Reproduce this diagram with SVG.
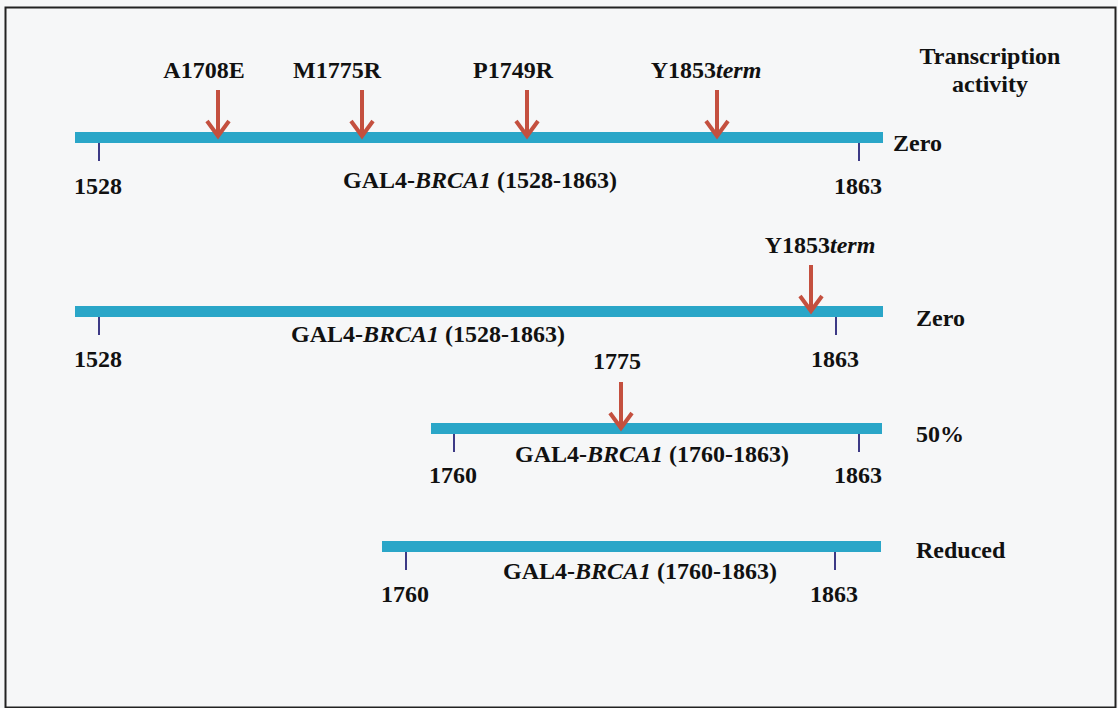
<svg xmlns="http://www.w3.org/2000/svg" width="1118" height="708" viewBox="0 0 1118 708">
<style>
text{font-family:"Liberation Serif","Times New Roman",serif;font-weight:bold;font-size:24px;fill:#111;text-anchor:middle}
.it{font-style:italic}
.bar{fill:#2aa6c8}
.tick{stroke:#3d3a86;stroke-width:2}
.arr{stroke:#c4503f;stroke-width:4;fill:none;stroke-linecap:butt}
.st{text-anchor:start}
</style>
<defs>
<g id="arrow"><line class="arr" x1="0" y1="0" x2="0" y2="46"/><polyline class="arr" points="-11,31 0,46 11,31"/></g>
</defs>
<rect x="0" y="0" width="1118" height="708" fill="#f6f7f8"/>
<rect x="5.5" y="7.5" width="1110" height="700" fill="none" stroke="#222" stroke-width="2"/>
<g id="header">
<text x="990" y="64">Transcription</text>
<text x="990" y="92">activity</text>
</g>
<g id="construct1">
<rect class="bar" x="75" y="132" width="808" height="11"/>
<line class="tick" x1="99" y1="143" x2="99" y2="161"/>
<line class="tick" x1="859" y1="143" x2="859" y2="161"/>
<text x="98" y="194">1528</text>
<text x="858" y="194">1863</text>
<text x="480" y="188">GAL4-<tspan class="it">BRCA1</tspan> (1528-1863)</text>
<text class="st" x="893" y="151">Zero</text>
</g>
<g id="mutations1">
<text x="204" y="78">A1708E</text>
<text x="337" y="78">M1775R</text>
<text x="513" y="78">P1749R</text>
<text x="706" y="78">Y1853<tspan class="it">term</tspan></text>
</g>
<g id="construct2">
<rect class="bar" x="75" y="306" width="808" height="11"/>
<line class="tick" x1="99" y1="317" x2="99" y2="335"/>
<line class="tick" x1="836" y1="317" x2="836" y2="335"/>
<text x="98" y="367">1528</text>
<text x="835" y="367">1863</text>
<text x="428" y="342">GAL4-<tspan class="it">BRCA1</tspan> (1528-1863)</text>
<text class="st" x="916" y="326">Zero</text>
<text x="820" y="253">Y1853<tspan class="it">term</tspan></text>
</g>
<g id="construct3">
<rect class="bar" x="431" y="423" width="451" height="11"/>
<line class="tick" x1="454" y1="434" x2="454" y2="452"/>
<line class="tick" x1="859" y1="434" x2="859" y2="452"/>
<text x="453" y="483">1760</text>
<text x="858" y="483">1863</text>
<text x="652" y="462">GAL4-<tspan class="it">BRCA1</tspan> (1760-1863)</text>
<text class="st" x="916" y="442">50%</text>
<text x="617" y="369">1775</text>
</g>
<g id="construct4">
<rect class="bar" x="382" y="541" width="499" height="11"/>
<line class="tick" x1="406" y1="552" x2="406" y2="570"/>
<line class="tick" x1="835" y1="552" x2="835" y2="570"/>
<text x="405" y="602">1760</text>
<text x="834" y="602">1863</text>
<text x="640" y="579">GAL4-<tspan class="it">BRCA1</tspan> (1760-1863)</text>
<text class="st" x="916" y="558">Reduced</text>
</g>
<g id="connectors">
<use href="#arrow" x="218" y="90"/>
<use href="#arrow" x="362" y="90"/>
<use href="#arrow" x="527" y="90"/>
<use href="#arrow" x="717" y="90"/>
<use href="#arrow" x="811" y="265"/>
<use href="#arrow" x="621" y="382"/>
</g>
</svg>
